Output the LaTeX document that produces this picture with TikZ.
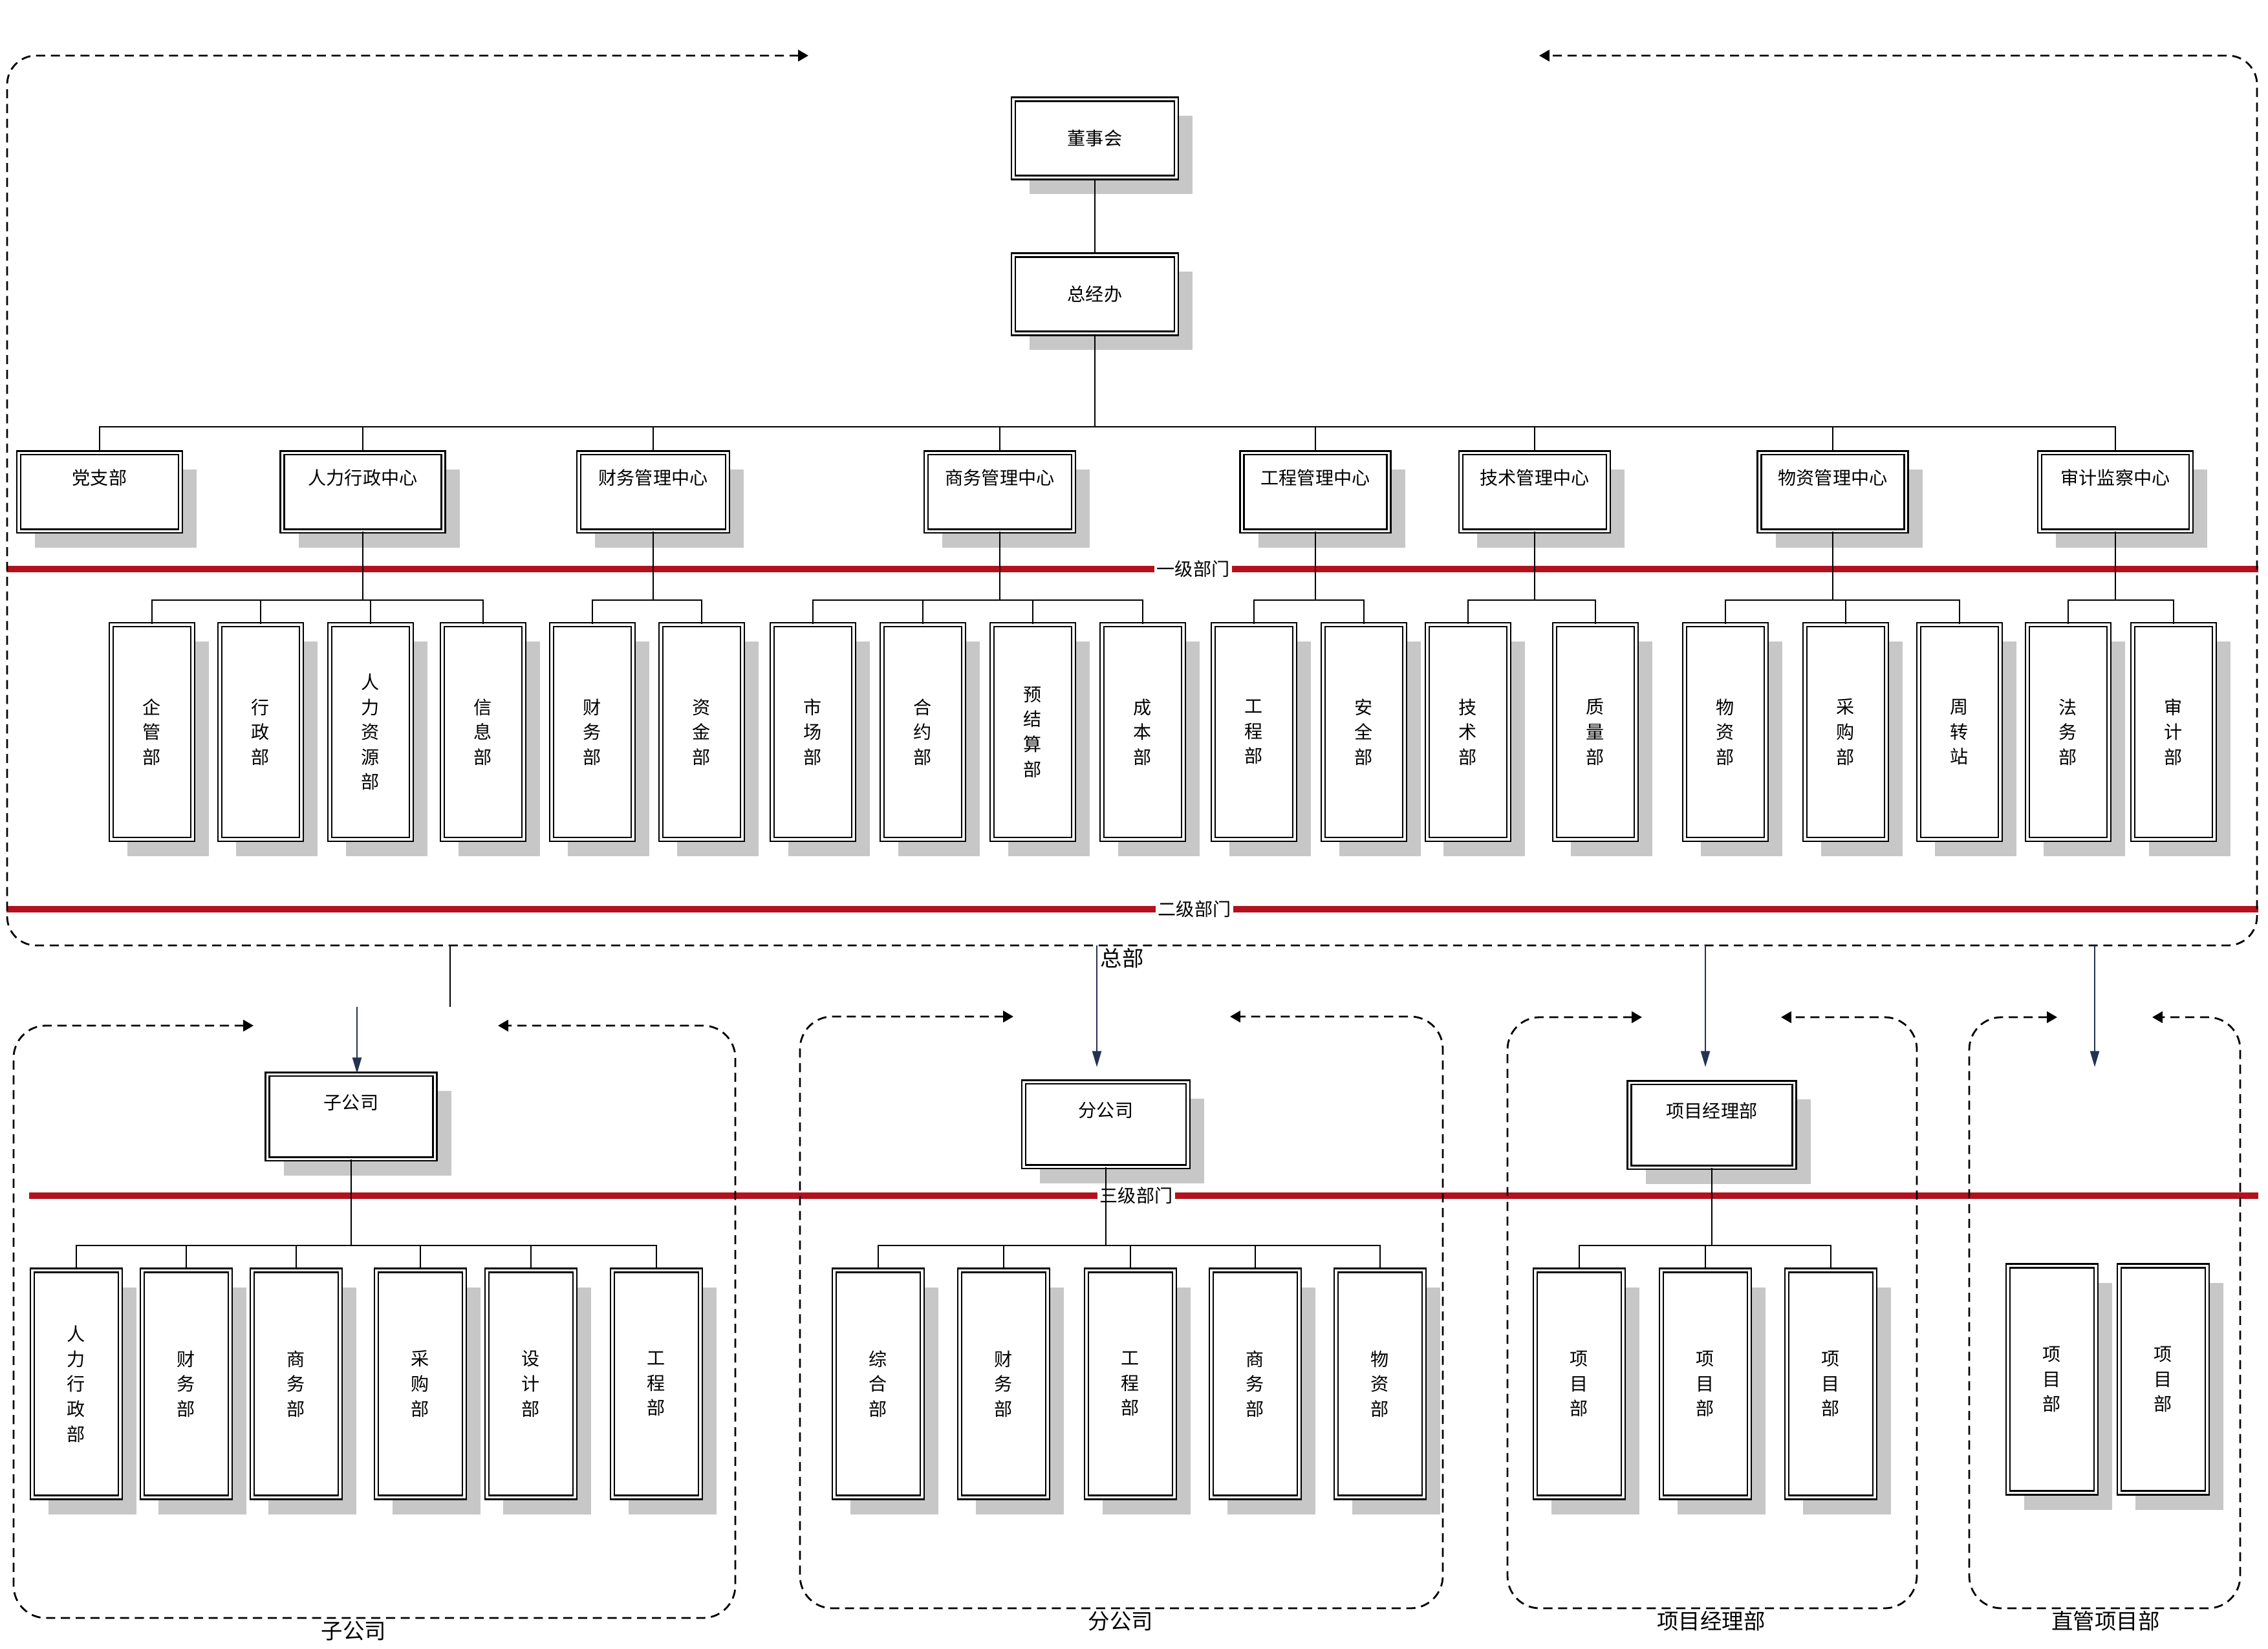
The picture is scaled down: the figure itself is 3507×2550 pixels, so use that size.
\documentclass[tikz,border=0pt]{standalone}
\usepackage{fontspec}
\newfontfamily\cjk{Noto Sans CJK SC}
\usetikzlibrary{arrows.meta}
\usetikzlibrary{shadows}
\definecolor{deptred}{RGB}{178,18,30}
\definecolor{linknavy}{RGB}{38,50,82}

\begin{document}
\begin{tikzpicture}[x=0.1mm, y=-0.1mm,
    hbox/.style={draw, double, double distance=0.9pt, line width=0.7pt, fill=white, inner sep=0pt,
      font=\cjk\fontsize{8}{9}\selectfont,
      drop shadow={shadow xshift=0.25cm, shadow yshift=-0.26cm, fill=black!22, opacity=1}},
    topbox/.style={hbox, minimum width=2.52cm, minimum height=1.21cm},
    headbox/.style={hbox, minimum width=#1, text height=0.49cm, text depth=0.72cm, anchor=north},
    subbox/.style={hbox, minimum width=#1, text height=0.54cm, text depth=0.77cm, anchor=north},
    deptbox/.style={hbox, align=center, minimum width=1.26cm, minimum height=3.32cm,
      font=\cjk\fontsize{8}{11}\selectfont},
    unitbox/.style={deptbox, minimum width=1.36cm, minimum height=3.51cm},
    link/.style={line width=0.8pt},
    feed/.style={draw=linknavy, line width=0.55pt, -{Triangle[length=7pt, width=4pt]}},
    dashzone/.style={line width=0.8pt, dash pattern=on 4pt off 2.5pt, rounded corners=#1,
      {Triangle[length=4.5pt, width=5pt]}-{Triangle[length=4.5pt, width=5pt]}},
    levelline/.style={draw=deptred, line width=2.6pt},
    levelname/.style={fill=white, inner sep=1pt, font=\cjk\fontsize{8}{9}\selectfont},
    zonename/.style={font=\cjk\fontsize{9.5}{11}\selectfont}
  ]
  \fill[white] (0,0) rectangle (3507,2550);
  \useasboundingbox (0,0) rectangle (3507,2550);

  % level lines
  \draw[levelline] (10,880) -- (3492,880);
  \node[levelname] (lv1) at (1845,880) {一级部门};
  \draw[levelline] (10,1406) -- (3492,1406);
  \node[levelname] (lv2) at (1847,1406) {二级部门};
  \draw[levelline] (45,1849) -- (3492,1849);
  \node[levelname] (lv3) at (1757,1849) {三级部门};

  % dashed zones
  \draw[dashzone=0.45cm] (1250,86) -- (11,86) -- (11,1462) -- (3490,1462) -- (3490,86) -- (2380,86);
  \draw[dashzone=0.5cm] (392,1586) -- (21,1586) -- (21,2502) -- (1137,2502) -- (1137,1586) -- (770,1586);
  \draw[dashzone=0.5cm] (1567,1572) -- (1237,1572) -- (1237,2487) -- (2231,2487) -- (2231,1572) -- (1902,1572);
  \draw[dashzone=0.5cm] (2539,1573) -- (2331,1573) -- (2331,2487) -- (2964,2487) -- (2964,1573) -- (2754,1573);
  \draw[dashzone=0.5cm] (3181,1573) -- (3045,1573) -- (3045,2487) -- (3464,2487) -- (3464,1573) -- (3328,1573);

  \node[zonename] (hqname) at (1735,1482) {总部};
  \node[zonename] (zgsname) at (547,2522) {子公司};
  \node[zonename] (fgsname) at (1733,2507) {分公司};
  \node[zonename] (xmname) at (2646,2507) {项目经理部};
  \node[zonename] (zgname) at (3256,2507) {直管项目部};

  % head office
  \node[topbox] (dsh) at (1693,214) {董事会};
  \node[topbox] (zjb) at (1693,455) {总经办};

  \foreach \n/\cx/\w/\t in {dzb/154/2.50cm/党支部, rl/561/2.49cm/人力行政中心,
      cw/1010/2.30cm/财务管理中心, sw/1546/2.28cm/商务管理中心, gc/2034/2.27cm/工程管理中心,
      js/2373/2.28cm/技术管理中心, wz/2834/2.27cm/物资管理中心, sj/3271/2.34cm/审计监察中心}{
    \node[headbox=\w] (\n) at (\cx,699) {\t};
  }

  \foreach \n/\cx/\t in {qg/235/{企\\管\\部}, xz/403/{行\\政\\部}, rlzy/573/{人\\力\\资\\源\\部},
      xx/747/{信\\息\\部}, cwb/916/{财\\务\\部}, zj/1085/{资\\金\\部}, sc/1257/{市\\场\\部},
      hy/1427/{合\\约\\部}, yjs/1597/{预\\结\\算\\部}, cb/1767/{成\\本\\部}, gcb/1939/{工\\程\\部},
      aq/2109/{安\\全\\部}, jsb/2270/{技\\术\\部}, zl/2467/{质\\量\\部}, wzb/2668/{物\\资\\部},
      cg/2854/{采\\购\\部}, zzz/3030/{周\\转\\站}, fw/3198/{法\\务\\部}, sjb/3361/{审\\计\\部}}{
    \node[deptbox] (\n) at (\cx,1132) {\t};
  }

  % subsidiaries
  \node[subbox=2.59cm] (zgs) at (543,1660) {子公司};
  \node[subbox=2.54cm] (fgs) at (1710,1672) {分公司};
  \node[subbox=2.55cm] (xmjl) at (2647,1673) {项目经理部};

  \foreach \n/\cx/\t in {sg1/118/{人\\力\\行\\政\\部}, sg2/288/{财\\务\\部}, sg3/458/{商\\务\\部},
      sg4/650/{采\\购\\部}, sg5/821/{设\\计\\部}, sg6/1015/{工\\程\\部},
      fg1/1358/{综\\合\\部}, fg2/1552/{财\\务\\部}, fg3/1748/{工\\程\\部}, fg4/1941/{商\\务\\部},
      fg5/2134/{物\\资\\部}, xm1/2442/{项\\目\\部}, xm2/2637/{项\\目\\部}, xm3/2831/{项\\目\\部}}{
    \node[unitbox] (\n) at (\cx,2140) {\t};
  }
  \node[unitbox] (zg1) at (3173,2133) {项\\目\\部};
  \node[unitbox] (zg2) at (3345,2133) {项\\目\\部};

  % connectors
  \draw[link] (dsh) -- (zjb);
  \coordinate (bus1) at (0,660);
  \foreach \n in {dzb,rl,cw,sw,gc,js,wz,sj}
    \draw[link] (zjb.south) -- (zjb.south |- bus1) -| (\n.north);

  \coordinate (bus2) at (0,928);
  \foreach \p/\kids in {rl/{qg,xz,rlzy,xx}, cw/{cwb,zj}, sw/{sc,hy,yjs,cb}, gc/{gcb,aq},
      js/{jsb,zl}, wz/{wzb,cg,zzz}, sj/{fw,sjb}}
    \foreach \k in \kids
      \draw[link] (\p.south) -- (\p.south |- bus2) -| (\k.north);

  \coordinate (bus3) at (0,1926);
  \foreach \p/\kids in {zgs/{sg1,sg2,sg3,sg4,sg5,sg6}, fgs/{fg1,fg2,fg3,fg4,fg5}, xmjl/{xm1,xm2,xm3}}
    \foreach \k in \kids
      \draw[link] (\p.south) -- (\p.south |- bus3) -| (\k.north);

  % head office to units
  \coordinate (hq-a) at (696,1462);
  \coordinate (hq-b) at (696,1557);
  \draw[line width=0.55pt] (hq-a) -- (hq-b);
  \coordinate (zgs-in) at (552,1557);
  \draw[feed] (zgs-in) -- (zgs.north -| zgs-in);
  \coordinate (hq-fgs) at (1696,1462);
  \coordinate (fgs-in) at (1696,1650);
  \draw[feed] (hq-fgs) -- (fgs-in);
  \coordinate (hq-xm) at (2637,1462);
  \coordinate (xm-in) at (2637,1650);
  \draw[feed] (hq-xm) -- (xm-in);
  \coordinate (hq-zg) at (3239,1462);
  \coordinate (zg-in) at (3239,1650);
  \draw[feed] (hq-zg) -- (zg-in);
\end{tikzpicture}
\end{document}
